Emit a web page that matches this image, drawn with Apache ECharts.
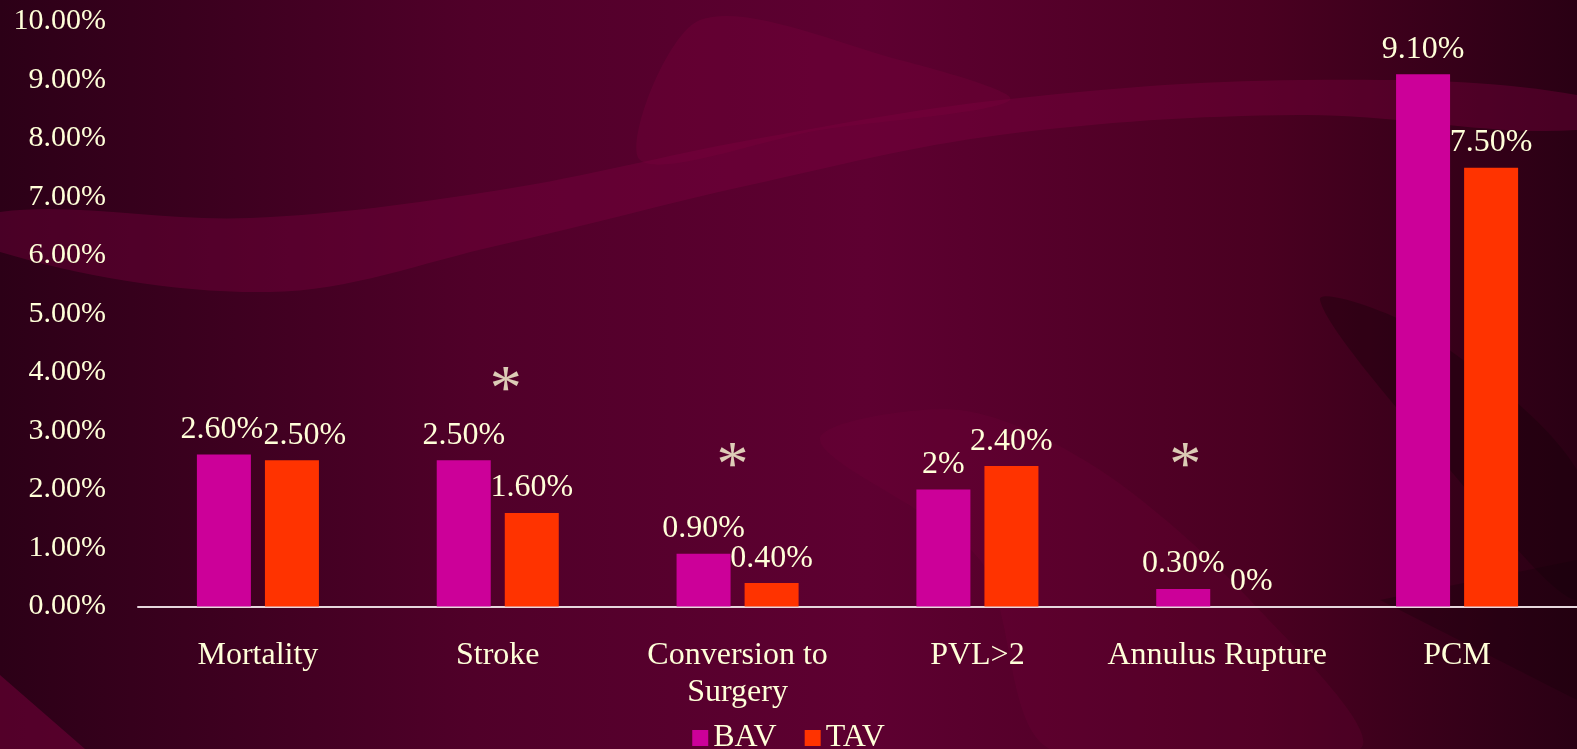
<!DOCTYPE html>
<html>
<head>
<meta charset="utf-8">
<script src="https://cdn.jsdelivr.net/npm/echarts@6/dist/echarts.min.js"></script>
<style>
  html, body { margin: 0; padding: 0; }
  #chart { width: 1577px; height: 749px; }
</style>
</head>
<body>
<div id="chart"></div>
<script>
  //数据
  var categories = ['Mortality', 'Stroke', 'Conversion to\nSurgery', 'PVL>2', 'Annulus Rupture', 'PCM'];
  var bavValues = [2.6, 2.5, 0.9, 2.0, 0.3, 9.1];
  var tavValues = [2.5, 1.6, 0.4, 2.4, 0, 7.5];
  var bavLabels = ['2.60%', '2.50%', '0.90%', '2%', '0.30%', '9.10%'];
  var tavLabels = ['2.50%', '1.60%', '0.40%', '2.40%', '0%', '7.50%'];
  // 星号标注 (类别, 高度)
  var starCats = ['Stroke', 'Conversion to\nSurgery', 'Annulus Rupture'];
  var starValues = [3.66, 2.37, 2.37];
  var starDx = [8, -5, -32];
  // 标签水平偏移 (避免重叠)
  var bavLabelDx = [-2, 0, 0, 0, 0, 0];
  var tavLabelDx = [13, 0, 0, 0, 0, 0];

  var cream = '#FFFFD9';
  var serif = 'Liberation Serif';

  var chart = echarts.init(document.getElementById('chart'));

  function withOffset(values, dx) {
    return values.map(function(v, i) {
      return { value: v, label: { offset: [dx[i], 0] } };
    });
  }

  var starData = [];
  starCats.forEach(function(c, i) {
    starData.push({
      value: [c, starValues[i]],
      label: { offset: [starDx[i], 0] }
    });
  });

  chart.setOption({
    backgroundColor: {
      type: 'linear', x: 0, y: 0, x2: 1, y2: 0,
      colorStops: [
        { offset: 0, color: '#2c0017' },
        { offset: 0.3, color: '#500029' },
        { offset: 0.55, color: '#5e0031' },
        { offset: 0.8, color: '#4a0021' },
        { offset: 1, color: '#2a0014' }
      ]
    },
    graphic: [{
      // 背景弧带
      type: 'polygon', z: -10, silent: true,
      shape: { smooth: 0.35, points: [[0, 212], [250, 218], [500, 190], [750, 140], [1000, 100], [1300, 80], [1577, 95], [1577, 130], [1300, 115], [1000, 135], [750, 185], [500, 245], [270, 292], [0, 252]] },
      style: { fill: 'rgba(130,0,65,0.35)' }
    }, {
      type: 'polygon', z: -10, silent: true,
      shape: { smooth: 0.3, points: [[640, 160], [700, 20], [900, 60], [1010, 100], [820, 130]] },
      style: { fill: 'rgba(130,0,65,0.25)' }
    }, {
      type: 'polygon', z: -10, silent: true,
      shape: { smooth: 0.3, points: [[1320, 300], [1420, 330], [1577, 470], [1577, 600], [1450, 470]] },
      style: { fill: 'rgba(20,0,10,0.35)' }
    }, {
      type: 'polygon', z: -10, silent: true,
      shape: { points: [[0, 675], [85, 749], [0, 749]] },
      style: { fill: 'rgba(130,0,65,0.45)' }
    }, {
      type: 'polygon', z: -10, silent: true,
      shape: { smooth: 0.3, points: [[820, 440], [960, 410], [1100, 470], [1250, 600], [1360, 749], [1050, 749], [980, 560]] },
      style: { fill: 'rgba(120,0,60,0.2)' }
    }, {
      type: 'polygon', z: -10, silent: true,
      shape: { points: [[1380, 600], [1577, 560], [1577, 700]] },
      style: { fill: 'rgba(20,0,10,0.3)' }
    }],
    textStyle: { fontFamily: serif },
    grid: { left: 138, right: 0, top: 21.5, bottom: 142.5, containLabel: false },
    legend: {
      data: ['BAV', 'TAV'],
      left: 'center',
      top: 717,
      icon: 'rect',
      itemWidth: 16,
      itemHeight: 16,
      itemGap: 28,
      textStyle: { color: cream, fontSize: 32, fontFamily: serif }
    },
    xAxis: {
      type: 'category',
      data: categories,
      axisLine: { lineStyle: { color: '#e6d6dc', width: 2 } },
      axisTick: { show: false },
      axisLabel: { interval: 0, color: cream, fontSize: 32, fontFamily: serif, lineHeight: 37, margin: 31 }
    },
    yAxis: {
      type: 'value',
      min: 0,
      max: 10,
      interval: 1,
      splitLine: { show: false },
      axisLine: { show: false },
      axisTick: { show: false },
      axisLabel: {
        color: cream, fontSize: 30, fontFamily: serif, margin: 32,
        formatter: function(v) { return v.toFixed(2) + '%'; }
      }
    },
    series: [{
      name: 'BAV',
      type: 'bar',
      data: withOffset(bavValues, bavLabelDx),
      barWidth: 54,
      barGap: '26%',
      itemStyle: { color: '#CC0099' },
      label: {
        show: true, position: 'top', distance: 9,
        color: cream, fontSize: 32, fontFamily: serif,
        formatter: function(p) { return bavLabels[p.dataIndex]; }
      }
    }, {
      name: 'TAV',
      type: 'bar',
      data: withOffset(tavValues, tavLabelDx),
      barWidth: 54,
      itemStyle: { color: '#FF3300' },
      label: {
        show: true, position: 'top', distance: 9,
        color: cream, fontSize: 32, fontFamily: serif,
        formatter: function(p) { return tavLabels[p.dataIndex]; }
      }
    }, {
      name: 'star',
      type: 'scatter',
      data: starData,
      symbolSize: 0,
      silent: true,
      label: {
        show: true, position: 'inside',
        formatter: '*', color: cream, fontSize: 64, fontFamily: serif
      }
    }]
  });
</script>
</body>
</html>
